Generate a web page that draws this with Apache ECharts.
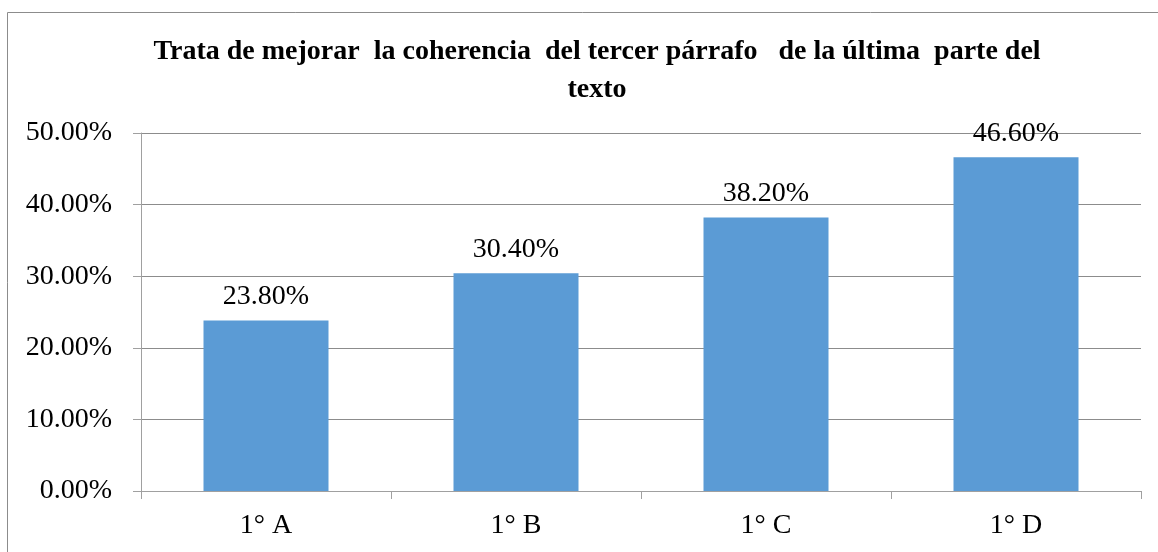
<!DOCTYPE html>
<html>
<head>
<meta charset="utf-8">
<script src="https://cdn.jsdelivr.net/npm/echarts@6/dist/echarts.min.js"></script>
<style>
  html, body { margin: 0; padding: 0; background: #fff; }
  #chart { width: 1158px; height: 552px; }
</style>
</head>
<body>
<div id="chart"></div>
<script>
// datos del gráfico
const categorias = ['1° A', '1° B', '1° C', '1° D'];
const porcentajes = [23.8, 30.4, 38.2, 46.6];
const titulo = 'Trata de mejorar  la coherencia  del tercer párrafo   de la última  parte del\ntexto';

const chart = echarts.init(document.getElementById('chart'));

const option = {
  backgroundColor: '#fff',
  animation: false,
  textStyle: { fontFamily: 'Liberation Serif' },
  graphic: [
    // borde del área del gráfico (solo arriba e izquierda visibles)
    { type: 'line', shape: { x1: 7.5, y1: 12.5, x2: 1158, y2: 12.5 }, style: { stroke: '#8c8c8c', lineWidth: 1 } },
    { type: 'line', shape: { x1: 7.5, y1: 12.5, x2: 7.5, y2: 552 }, style: { stroke: '#8c8c8c', lineWidth: 1 } }
  ],
  title: {
    text: titulo,
    left: 592,
    textAlign: 'center',
    top: 28,
    textStyle: {
      fontFamily: 'Liberation Serif',
      fontWeight: 'bold',
      fontSize: 28,
      lineHeight: 38,
      color: '#000'
    }
  },
  grid: { left: 141, right: 17, top: 133, bottom: 61 },
  xAxis: {
    type: 'category',
    data: categorias,
    axisLine: { lineStyle: { color: '#a0a0a0' } },
    axisTick: { show: true, length: 8, lineStyle: { color: '#a0a0a0' } },
    axisLabel: { fontSize: 28, color: '#000', margin: 21, fontFamily: 'Liberation Serif' }
  },
  yAxis: {
    type: 'value',
    min: 0,
    max: 50,
    interval: 10,
    axisLine: { show: true, lineStyle: { color: '#a0a0a0' } },
    axisTick: { show: true, length: 8, inside: false, lineStyle: { color: '#a0a0a0' } },
    splitLine: { lineStyle: { color: '#8c8c8c' } },
    axisLabel: {
      fontSize: 28,
      color: '#000',
      margin: 29,
      fontFamily: 'Liberation Serif',
      formatter: v => v.toFixed(2) + '%'
    }
  },
  series: [{
    type: 'bar',
    data: porcentajes,
    barWidth: '50%',
    itemStyle: { color: '#5b9bd5' },
    label: {
      show: true,
      position: 'top',
      distance: 10,
      fontSize: 28,
      color: '#000',
      fontFamily: 'Liberation Serif',
      formatter: p => p.value.toFixed(2) + '%'
    }
  }]
};

chart.setOption(option);
</script>
</body>
</html>
